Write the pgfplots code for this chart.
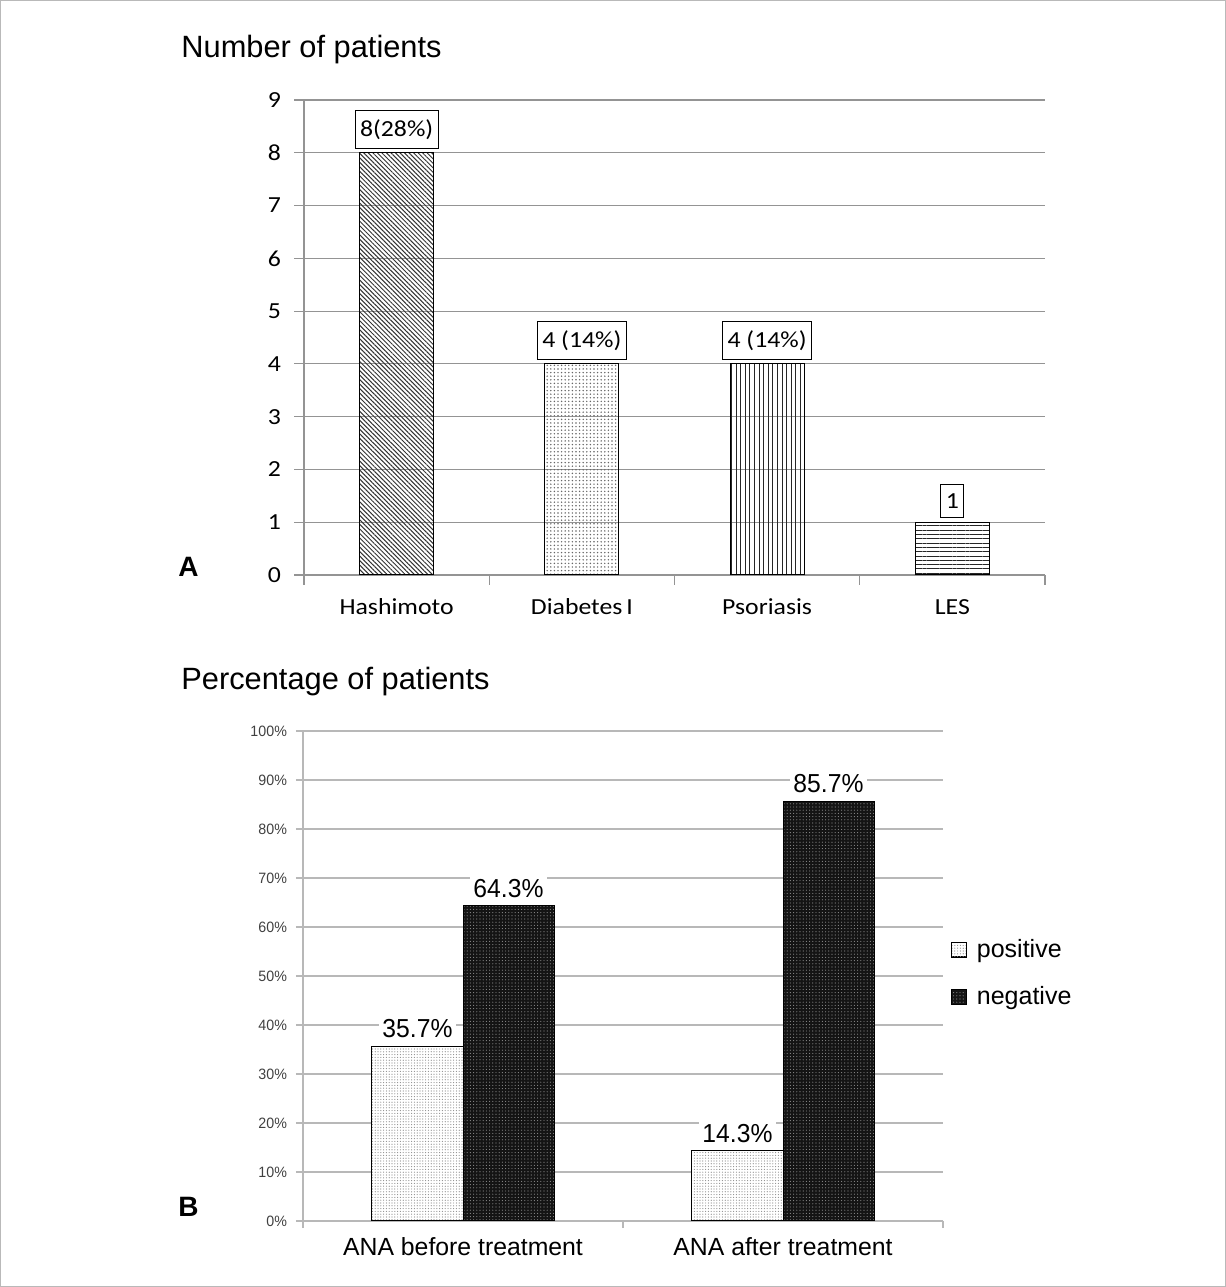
\documentclass[border=0pt]{standalone}
\usepackage{pgfplots}
\pgfplotsset{compat=1.18}
\usetikzlibrary{patterns.meta}
\usepackage{fontspec}
\setmainfont{Liberation Sans}
\newfontfamily\calfont[FakeStretch=1.12]{Carlito}
\newfontfamily\smallfont[FakeStretch=0.95]{Liberation Sans}
\definecolor{gridA}{gray}{0.58}
\definecolor{gridB}{gray}{0.72}
\begin{document}
\begin{tikzpicture}
\draw[gray!55, line width=0.7pt] (0.35pt,0.35pt) rectangle (612.65pt,643.15pt);
\node[anchor=base west, inner sep=0pt, font=\fontsize{15.4}{18}\selectfont] at (90.5pt,614.5pt) {Number of patients};
\node[anchor=base west, inner sep=0pt, font=\fontsize{15.4}{18}\selectfont] at (90.5pt,298.5pt) {Percentage of patients};
\node[anchor=base west, inner sep=0pt, font=\bfseries\fontsize{14}{16}\selectfont] at (89pt,355pt) {A};
\node[anchor=base west, inner sep=0pt, font=\bfseries\fontsize{14}{16}\selectfont] at (89pt,35pt) {B};

% ---------------- Panel A ----------------
\begin{axis}[
  at={(152pt,356pt)}, anchor=south west,
  scale only axis, width=370.5pt, height=237.5pt,
  xmin=-0.5, xmax=3.5, ymin=0, ymax=9,
  axis x line*=bottom, axis y line*=left,
  axis line style={gridA, -, line width=0.6pt},
  ytick={0,1,...,9},
  ymajorgrids, grid style={gridA, line width=0.6pt},
  xtick={-0.5,0.5,1.5,2.5,3.5},
  x tick label as interval,
  xticklabels={Hashimoto, Diabetes\,I, Psoriasis, LES},
  tick align=outside, major tick length=5pt,
  tick style={gridA, line width=0.6pt},
  /pgf/number format/assume math mode=true,
  tick label style={font=\calfont\fontsize{11.5}{13}\selectfont, text=black},
  yticklabel style={xshift=-3pt},
  xticklabel style={text height=9pt, text depth=2.5pt, yshift=-2pt},
  ybar, bar width=37pt, bar shift=0pt,
  nodes near coords, point meta=explicit symbolic,
  nodes near coords align={vertical},
  every node near coord/.append style={draw=black, fill=white, line width=0.5pt,
     font=\calfont\fontsize{11.5}{13}\selectfont, inner xsep=2.5pt, inner ysep=4.5pt, yshift=2pt},
]
\addplot[draw=black, line width=0.5pt, pattern={Lines[angle=-45,distance=1.6pt,line width=0.5pt]}, pattern color=black!80]
  coordinates {(0,8) [8(28\%)]};
\addplot[draw=black, line width=0.5pt, pattern={Dots[distance=1.8pt,radius=0.4pt]}, pattern color=black!60]
  coordinates {(1,4) [4 (14\%)]};
\addplot[draw=black, line width=0.5pt, pattern={Lines[angle=90,distance=2.3pt,line width=0.5pt]}, pattern color=black!85]
  coordinates {(2,4) [4 (14\%)]};
\addplot[draw=black, line width=0.5pt, pattern={Lines[angle=0,distance=2.15pt,line width=0.5pt]}, pattern color=black!85]
  coordinates {(3,1) [1]};
\end{axis}

% ---------------- Panel B ----------------
\begin{axis}[
  at={(151.5pt,33pt)}, anchor=south west,
  scale only axis, width=320pt, height=245pt,
  xmin=-0.5, xmax=1.5, ymin=0, ymax=100,
  axis x line*=bottom, axis y line*=left,
  axis line style={gridB, -, line width=0.6pt},
  ytick={0,10,...,100},
  yticklabel={\pgfmathprintnumber{\tick}\%},
  ymajorgrids, grid style={gridB, line width=0.6pt},
  xtick={-0.5,0.5,1.5},
  x tick label as interval,
  xticklabels={ANA before treatment, ANA after treatment},
  tick align=outside, major tick length=3.5pt,
  tick style={gridB, line width=0.6pt},
  /pgf/number format/assume math mode=true,
  yticklabel style={font=\smallfont\fontsize{7.5}{8.5}\selectfont, text=black!75, xshift=-1pt},
  xticklabel style={font=\fontsize{12.4}{14}\selectfont, text=black, text height=9pt, text depth=2.5pt, yshift=-1pt},
  ybar, bar width=45.5pt,
  legend style={at={(1.003,0.506)}, anchor=west, draw=none, fill=none,
     font=\fontsize{12.5}{14}\selectfont, row sep=9pt,
     /tikz/every odd column/.append style={column sep=3pt}},
  legend cell align=left,
  sq/.style={legend image code/.code={\draw[##1, draw=black, line width=0.4pt] (0pt,-3.7pt) rectangle (7.4pt,3.7pt);}},
  lab/.style={draw=none, fill=none, forget plot, nodes near coords, point meta=explicit symbolic,
     every node near coord/.append style={fill=white, inner xsep=1.5pt, inner ysep=1.5pt, yshift=2.5pt,
     font=\smallfont\fontsize{13}{15}\selectfont, text=black}},
]
\addplot[sq, bar shift=-22.75pt, draw=black, line width=0.5pt, preaction={fill=white}, pattern={Dots[distance=1.4pt,radius=0.3pt]}, pattern color=black!45]
  coordinates {(0,35.7) (1,14.3)};
\addplot[sq, bar shift=22.75pt, draw=black, line width=0.5pt, preaction={fill=black!92}, pattern={Dots[distance=1.6pt,radius=0.28pt]}, pattern color=black!45]
  coordinates {(0,64.3) (1,85.7)};
\addplot[lab, bar shift=-22.75pt] coordinates {(0,35.7) [35.7\%] (1,14.3) [14.3\%]};
\addplot[lab, bar shift=22.75pt] coordinates {(0,64.3) [64.3\%] (1,85.7) [85.7\%]};
\legend{positive, negative}
\end{axis}
\end{tikzpicture}
\end{document}
